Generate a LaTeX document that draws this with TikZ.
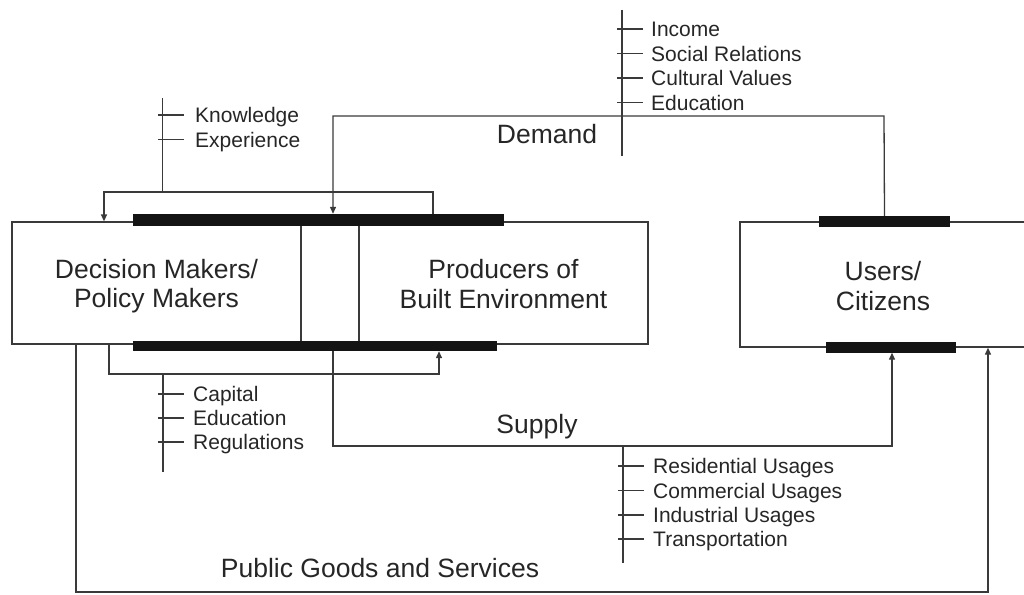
\documentclass[tikz,border=0pt]{standalone}
\usepackage{fontspec}
\setmainfont{Liberation Sans}
\usetikzlibrary{arrows.meta}
\definecolor{ink}{HTML}{3A3A3A}
\definecolor{barink}{HTML}{141414}
\begin{document}
\begin{tikzpicture}[x=1pt,y=-1pt,
  line/.style={draw=ink,line width=1.3pt},
  arr/.style={line,-{Triangle[length=7pt,width=6pt]}},
  box/.style={line,rectangle,inner sep=0pt},
  bar/.style={rectangle,fill=barink,draw=none,inner sep=0pt},
  mainlbl/.style={inner sep=0pt,align=center,text=black!85,font=\fontsize{26.5}{29.5}\selectfont},
  flowlbl/.style={inner sep=0pt,anchor=base,text=black!85,font=\fontsize{26.5}{29.5}\selectfont},
  factor/.style={inner sep=0pt,anchor=base west,text=black!85,font=\fontsize{21}{24}\selectfont},
  tick/.style={line,line width=1.3pt}]
\useasboundingbox (0,0) rectangle (1024,594);

% actor boxes
\node[box,minimum width=289pt,minimum height=122pt] (dm) at (156.5,283) {};
\node[box,minimum width=289pt,minimum height=122pt] (pb) at (503.5,283) {};
\node[box,minimum width=286pt,minimum height=125pt] (uc) at (883,284.5) {};
\node[mainlbl] (dmt) at (156.5,286) {Decision Makers/\\Policy Makers};
\node[mainlbl] (pbt) at (503.5,284) {Producers of\\Built Environment};
\node[mainlbl] (uct) at (883,286) {Users/\\Citizens};

% thick interface bars
\node[bar,minimum width=371pt,minimum height=12pt] (topbar) at (318.5,220) {};
\node[bar,minimum width=364pt,minimum height=10pt] (botbar) at (315,346) {};
\node[bar,minimum width=131pt,minimum height=10pt] (utop) at (884.5,221.5) {};
\node[bar,minimum width=130pt,minimum height=10pt] (ubot) at (891,347.5) {};

% demand loop
\coordinate (dR) at (884,116);
\coordinate (dL) at (333,116);
\draw[arr] (utop.north) -- (dR) -- (dL) -- (topbar.north -| dL);
\node[flowlbl] (demand) at (547,143) {Demand};

% demand factors
\coordinate (iTop) at (622,10);
\coordinate (iBot) at (622,156);
\draw[line] (iTop) -- (iBot);
\foreach \y/\t/\n in {29/Income/inc,53.5/Social Relations/soc,78/Cultural Values/cul,102.5/Education/edu}{
  \draw[tick] (617,\y) -- (643,\y);
  \node[factor] (\n) at (651,\y+7.5) {\t};
}

% knowledge bracket
\coordinate (kR) at (433,192);
\coordinate (kL) at (104,192);
\draw[arr] (topbar.north -| kR) -- (kR) -- (kL) -- (kL |- dm.north);
\coordinate (kTop) at (162.5,98);
\coordinate (kJoin) at (162.5,192);
\draw[line] (kTop) -- (kJoin);
\foreach \y/\t/\n in {115/Knowledge/kno,139.5/Experience/exp}{
  \draw[tick] (158,\y) -- (184,\y);
  \node[factor] (\n) at (195,\y+7.5) {\t};
}

% capital bracket
\coordinate (cL) at (109,374);
\coordinate (cR) at (439,374);
\draw[arr] (dm.south -| cL) -- (cL) -- (cR) -- (botbar.south -| cR);
\coordinate (cJoin) at (163,374);
\coordinate (cBot) at (163,472);
\draw[line] (cJoin) -- (cBot);
\foreach \y/\t/\n in {394/Capital/cap,418/Education/ced,442/Regulations/reg}{
  \draw[tick] (158,\y) -- (184,\y);
  \node[factor] (\n) at (193,\y+7.5) {\t};
}

% supply loop
\coordinate (sL) at (333,446);
\coordinate (sR) at (892,446);
\draw[arr] (botbar.south -| sL) -- (sL) -- (sR) -- (ubot.south -| sR);
\node[flowlbl] (supply) at (537,433) {Supply};

% supply factors
\coordinate (rJoin) at (623,446);
\coordinate (rBot) at (623,563);
\draw[line] (rJoin) -- (rBot);
\foreach \y/\t/\n in {466/Residential Usages/res,490.5/Commercial Usages/com,515/Industrial Usages/ind,539/Transportation/tra}{
  \draw[tick] (618,\y) -- (644,\y);
  \node[factor] (\n) at (653,\y+7.5) {\t};
}

% public goods loop
\coordinate (pL) at (76,592);
\coordinate (pR) at (988,592);
\draw[arr] (dm.south -| pL) -- (pL) -- (pR) -- (uc.south -| pR);
\node[flowlbl] (public) at (380,577) {Public Goods and Services};

% redraw bars over connector ends
\fill[barink] (topbar.south west) rectangle (topbar.north east);
\fill[barink] (botbar.south west) rectangle (botbar.north east);
\fill[barink] (utop.south west) rectangle (utop.north east);
\fill[barink] (ubot.south west) rectangle (ubot.north east);
\end{tikzpicture}
\end{document}
